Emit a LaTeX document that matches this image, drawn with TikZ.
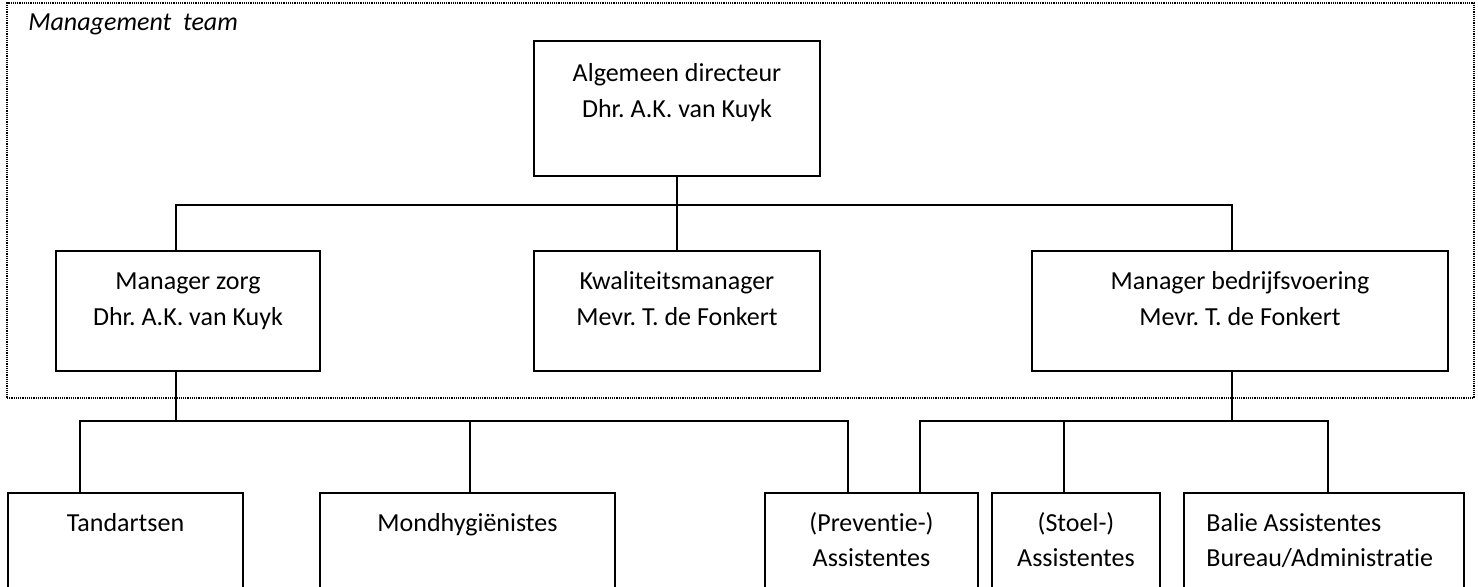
\documentclass[tikz,border=0pt]{standalone}
\usepackage{fontspec}
\setmainfont{Carlito}[Ligatures=NoCommon]
\usetikzlibrary{fit}
\frenchspacing
\begin{document}
\begin{tikzpicture}[x=0.5pt,y=-0.5pt,
  box/.style={draw=black,line width=1pt,inner sep=0pt,rectangle},
  frame/.style={draw=black,line width=0.9pt,dash pattern=on 0.6pt off 0.5pt,inner sep=0pt,rectangle},
  txt/.style={inner sep=0pt,anchor=base,font=\fontsize{13}{18.5}\selectfont},
  txtl/.style={txt,anchor=base west},
  conn/.style={draw=black,line width=0.9pt}]
\path[use as bounding box] (0,0) rectangle (1478,587);
\clip (0,0) rectangle (1478,587);
% management team frame
\node[frame,fit={(7,3) (1474,398)}] (mt) {};
\node[txtl,font=\fontsize{13}{18.5}\selectfont\itshape] (mtT) at (28,31) {Management\ \ team};
% boxes
\node[box,fit={(534,41) (820,176)}] (top) {};
\node[box,fit={(56,251) (320,371)}] (zorg) {};
\node[box,fit={(534,251) (820,371)}] (kwal) {};
\node[box,fit={(1032,251) (1448,371)}] (bedr) {};
\node[box,fit={(8,493) (243,620)}] (tand) {};
\node[box,fit={(320,493) (615,620)}] (mond) {};
\node[box,fit={(765,493) (978,620)}] (prev) {};
\node[box,fit={(992,493) (1160,620)}] (stoel) {};
\node[box,fit={(1184,493) (1464,620)}] (balie) {};
% texts
\node[txt] (topA) at (677,82) {Algemeen directeur};
\node[txt] (topB) at (677,118) {Dhr. A.K. van Kuyk};
\node[txt] (zorgA) at (188,290) {Manager zorg};
\node[txt] (zorgB) at (188,326) {Dhr. A.K. van Kuyk};
\node[txt] (kwalA) at (677,290) {Kwaliteitsmanager};
\node[txt] (kwalB) at (677,326) {Mevr. T. de Fonkert};
\node[txt] (bedrA) at (1240,290) {Manager bedrijfsvoering};
\node[txt] (bedrB) at (1240,326) {Mevr. T. de Fonkert};
\node[txt] (tandA) at (125.5,531) {Tandartsen};
\node[txt] (mondA) at (467.5,531) {Mondhygiënistes};
\node[txt] (prevA) at (871.5,531) {(Preventie-)};
\node[txt] (prevB) at (871.5,567) {Assistentes};
\node[txt] (stoelA) at (1076,531) {(Stoel-)};
\node[txt] (stoelB) at (1076,567) {Assistentes};
\node[txtl] (balieA) at (1206,531) {Balie Assistentes};
\node[txtl] (balieB) at (1206,567) {Bureau/Administratie};
% connector anchor points
\coordinate (hub1) at (677,205);
\coordinate (zt) at ([xshift=-6pt]zorg.north);
\coordinate (bt) at ([xshift=-4pt]bedr.north);
\coordinate (zb) at ([xshift=-6pt]zorg.south);
\coordinate (bb) at ([xshift=-4pt]bedr.south);
\coordinate (hub2) at (176,421);
\coordinate (hub3) at (1232,421);
\coordinate (ta) at ([xshift=-22.75pt]tand.north);
\coordinate (ma) at ([xshift=1.25pt]mond.north);
\coordinate (pl) at ([xshift=-11.75pt]prev.north);
\coordinate (pr) at ([xshift=24.25pt]prev.north);
\coordinate (sa) at ([xshift=-6pt]stoel.north);
\coordinate (ba) at ([xshift=2pt]balie.north);
% connectors
\draw[conn] (top.south) -- (hub1);
\draw[conn] (kwal.north) -- (hub1);
\draw[conn] (zt) |- (hub1) -| (bt);
\draw[conn] (zb) -- (hub2);
\draw[conn] (ta) |- (hub2) -| (pl);
\draw[conn] (ma) -- (ma |- hub2);
\draw[conn] (bb) -- (hub3);
\draw[conn] (pr) |- (hub3) -| (ba);
\draw[conn] (sa) -- (sa |- hub3);
\end{tikzpicture}
\end{document}
